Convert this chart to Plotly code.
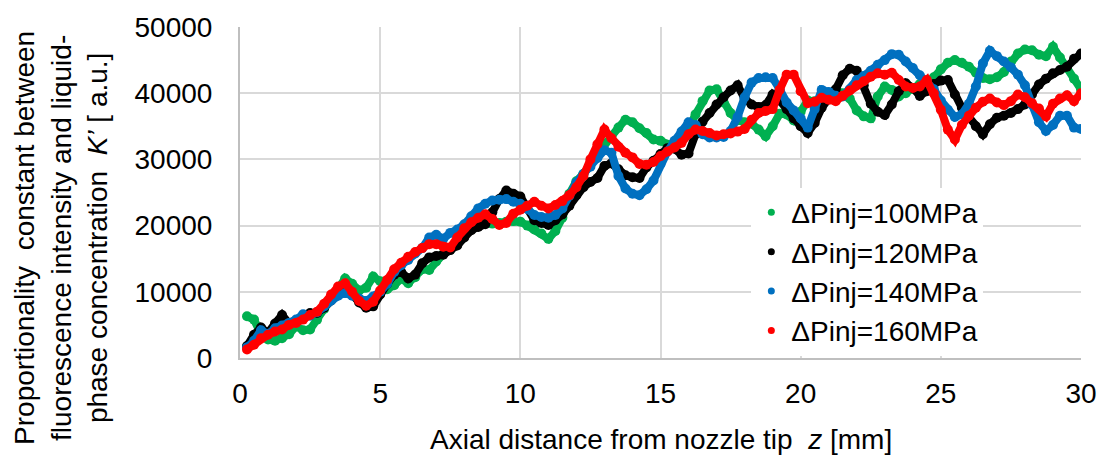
import numpy as np
import plotly.graph_objects as go

# Axial distance sampling positions [mm]
z = np.round(np.arange(0.25, 30.0001, 0.25), 2)

series_names = ["ΔPinj=100MPa", "ΔPinj=120MPa", "ΔPinj=140MPa", "ΔPinj=160MPa"]
series_colors = ["#00B050", "#000000", "#0070C0", "#FF0000"]

k_100 = [
    6300, 5800, 3600, 2800, 2600, 3000, 3600, 4800,
    4200, 4300, 5800, 7400, 8800, 10300, 12000, 11200,
    10200, 10600, 12300, 11600, 10400, 11000, 12000, 11300,
    12200, 13400, 13300, 14600, 15700, 16400, 17600, 18700,
    19800, 20500, 20400, 20300, 20400, 20600, 20700, 20600,
    20000, 19400, 18800, 18000, 19200, 21200, 24800, 26700,
    27800, 29300, 31000, 32400, 33500, 34800, 36000, 35600,
    34700, 34000, 33000, 32800, 32200, 31800, 33000, 34600,
    36800, 38800, 40400, 40600, 38600, 37000, 35900, 35600,
    35400, 34500, 33500, 35000, 36900, 36800, 35900, 37200,
    38900, 38800, 39000, 40000, 40400, 40000, 39200, 37400,
    36500, 36200, 39500, 41000, 40500, 39500, 40000, 40700,
    41400, 41200, 42400, 43600, 44600, 45000, 44600, 44000,
    43100, 42300, 42100, 42400, 43200, 44800, 46000, 46600,
    46500, 45800, 45600, 47000, 45400, 43800, 42200, 40600,
]

k_120 = [
    1800, 3500, 4600, 3800, 5200, 6500, 5200, 5600,
    6200, 6800, 6800, 7600, 8700, 9700, 10400, 9600,
    8400, 7600, 7800, 9600, 11200, 12600, 13000, 12000,
    12600, 14300, 15200, 15400, 15600, 16300, 17000, 18200,
    19300, 19800, 20200, 22000, 24000, 25300, 24800, 24400,
    22600, 20800, 20400, 20100, 20800, 21700, 23000, 24600,
    25800, 26600, 27200, 29000, 29400, 28500, 27600, 27300,
    27200, 28800, 29800, 30800, 31700, 31600, 30700, 30900,
    33800, 35700, 37000, 38300, 39400, 40400, 41200, 39200,
    38300, 37900, 38200, 39800, 38900, 37600, 36200, 35000,
    34000, 35500, 37800, 39300, 40600, 42700, 43700, 43400,
    41200, 38400, 37200, 36700, 38300, 40300, 41500, 40800,
    39600, 40300, 41400, 41900, 42000, 39800, 37800, 36400,
    35000, 33800, 35300, 36300, 36600, 37000, 37600, 38300,
    39800, 41300, 42200, 43000, 43500, 44000, 45200, 46000,
]

k_140 = [
    1600, 2600, 4200, 3600, 4500, 4900, 5300, 5800,
    6600, 6400, 6900, 7800, 8700, 9400, 9800, 9400,
    9000, 8600, 9300, 10000, 11200, 13000, 14000, 14800,
    15800, 16600, 18200, 18600, 18000, 18900, 19400, 20200,
    21400, 22600, 23300, 23800, 23900, 24000, 23600, 23300,
    22500, 21600, 21300, 21200, 21600, 22600, 24500, 26500,
    27800, 28900, 30200, 31400, 31000, 27500, 25600, 24800,
    24600, 25500, 26800, 29300, 31200, 32800, 34200, 35600,
    35200, 33800, 33300, 33300, 33400, 34300, 36400, 39400,
    41600, 42300, 42400, 42300, 40600, 38600, 37400, 36200,
    34800, 37600, 40500, 40200, 39600, 39500, 40600, 42000,
    42600, 43400, 44300, 45000, 45900, 45800, 44800, 43800,
    42700, 41800, 40600, 38900, 37500, 36400, 36800, 38400,
    41000, 44500, 46400, 45600, 44800, 43900, 42800, 41200,
    38300, 35600, 34300, 35200, 36600, 36600, 34800, 34600,
]

k_160 = [
    1300, 2000, 3000, 3500, 4000, 4300, 5000, 5300,
    5800, 6500, 7000, 8200, 9600, 10800, 11300, 10000,
    8600, 7900, 8500, 10200, 11800, 13400, 14400, 15300,
    16000, 16600, 17200, 17200, 16800, 16700, 18200, 19600,
    20500, 21200, 21700, 21000, 20100, 20400, 21800, 22400,
    23000, 23600, 23000, 22600, 23100, 23700, 24600, 25800,
    27500, 30000, 32300, 34500, 33200, 31900, 31000, 30300,
    29300, 29200, 29600, 30500, 31200, 31800, 32500, 33800,
    34500, 34300, 34000, 33600, 33800, 33900, 34200, 34600,
    36000, 37000, 37300, 37600, 40500, 42800, 42800, 40300,
    38500, 38700, 39300, 39000, 38800, 39600, 40400, 41200,
    41800, 42500, 43000, 42800, 43100, 42000, 41000, 40800,
    41000, 42000, 40000, 37500, 34500, 33000, 35200, 36600,
    37800, 38700, 39200, 38600, 38200, 38800, 39800, 39400,
    38500, 37700, 36500, 38400, 39200, 39700, 38800, 40000,
]

x_ticks = [0, 5, 10, 15, 20, 25, 30]
y_ticks = [0, 10000, 20000, 30000, 40000, 50000]

FONT = "Liberation Sans, Arial, sans-serif"

fig = go.Figure()
all_series = [k_100, k_120, k_140, k_160]
for name, color, vals in zip(series_names, series_colors, all_series):
    fig.add_trace(go.Scatter(
        x=z, y=vals, mode="lines+markers", name=name, showlegend=False,
        line=dict(color=color, width=8),
        marker=dict(color=color, size=10),
        hoverinfo="skip",
    ))
for name, color in zip(series_names, series_colors):
    fig.add_trace(go.Scatter(
        x=[None], y=[None], mode="markers", name=name,
        marker=dict(color=color, size=7),
    ))

fig.update_layout(
    width=1109, height=459,
    margin=dict(l=240, r=23, t=22, b=101),
    paper_bgcolor="white", plot_bgcolor="white",
    font=dict(family=FONT, size=28, color="#000000"),
    showlegend=True,
    legend=dict(
        x=0.608, y=0.515, xanchor="left", yanchor="top",
        bgcolor="white", borderwidth=0,
        font=dict(family=FONT, size=28, color="#000000"),
        itemwidth=30, tracegroupgap=0,
    ),
    xaxis=dict(
        range=[0, 30], tickvals=x_ticks, ticktext=[str(v) for v in x_ticks],
        showgrid=True, gridcolor="#d9d9d9", gridwidth=2,
        showline=True, linecolor="#bfbfbf", linewidth=2,
        zeroline=False, ticks="", ticklabelstandoff=9,
        tickfont=dict(family=FONT, size=28),
    ),
    yaxis=dict(
        range=[0, 50000], tickvals=y_ticks, ticktext=[str(v) for v in y_ticks],
        showgrid=True, gridcolor="#d9d9d9", gridwidth=2,
        showline=True, linecolor="#bfbfbf", linewidth=2,
        zeroline=False, ticks="", ticklabelstandoff=20,
        tickfont=dict(family=FONT, size=28),
    ),
    annotations=[
        dict(
            text="Proportionality  constant between<br>fluorescence intensity and liquid-<br>phase concentration  <i>K’</i> [ a.u.]",
            xref="paper", yref="paper", x=-0.2128, y=0.363,
            xanchor="center", yanchor="middle", textangle=-90,
            showarrow=False, font=dict(family=FONT, size=28),
        ),
        dict(
            text="Axial distance from nozzle tip  <i>z</i> [mm]",
            xref="paper", yref="paper", x=0.5, y=-0.245,
            xanchor="center", yanchor="middle",
            showarrow=False, font=dict(family=FONT, size=28),
        ),
    ],
)

fig.write_html("out.html")
